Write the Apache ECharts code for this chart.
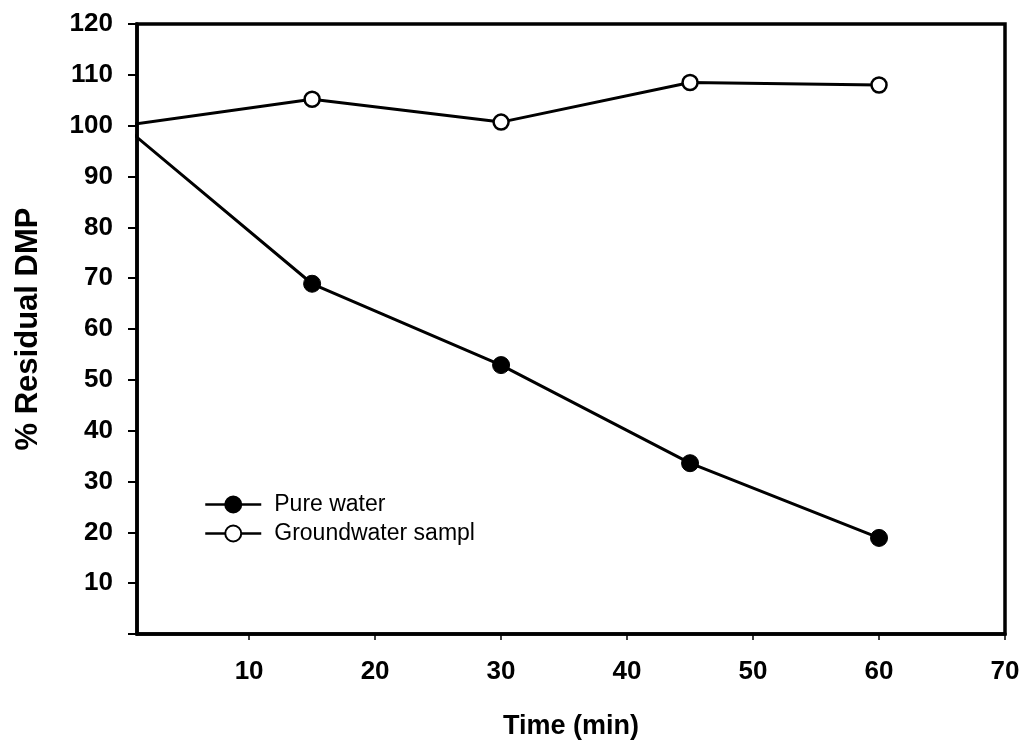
<!DOCTYPE html>
<html>
<head>
<meta charset="utf-8">
<script src="https://cdn.jsdelivr.net/npm/echarts@6/dist/echarts.min.js"></script>
<style>
html,body{margin:0;padding:0;background:#fff;}
#chart{width:1025px;height:746px;}
</style>
</head>
<body>
<div id="chart"></div>
<script>
var seriesNames = ['Pure water', 'Groundwater sampl'];
var timeMin = [0, 15, 30, 45, 60];
var pureWater = [100, 68.9, 52.9, 33.6, 18.9];
var groundwater = [100, 105.2, 100.7, 108.5, 108.0];
var xTickValues = [10, 20, 30, 40, 50, 60, 70];
var yTickLabels = ['10','20','30','40','50','60','70','80','90','100','110','120'];

function pairs(xs, ys) { return xs.map(function (x, i) { return [x, ys[i]]; }); }

var FONT = '"Liberation Sans", Arial, sans-serif';
var chart = echarts.init(document.getElementById('chart'));
chart.setOption({
  animation: false,
  backgroundColor: '#fff',
  grid: { left: 137, right: 20, top: 24, bottom: 112, show: true, borderColor: '#000', borderWidth: 3.5, backgroundColor: 'transparent' },
  legend: {
    left: 199, top: 488, orient: 'vertical', itemWidth: 56, itemHeight: 20, itemGap: 6,
    data: seriesNames,
    lineStyle: { width: 2.5 },
    textStyle: { fontFamily: FONT, fontSize: 23, color: '#000', padding: [0, 0, 0, 8] }
  },
  xAxis: {
    type: 'value', min: 1.1, max: 70,
    name: 'Time (min)', nameLocation: 'middle', nameGap: 79,
    nameTextStyle: { fontFamily: FONT, fontSize: 27, fontWeight: 'bold', color: '#000' },
    axisLine: { show: true, lineStyle: { color: '#000', width: 3.5 } },
    axisTick: { show: true, inside: false, length: 6, customValues: xTickValues, lineStyle: { color: '#000', width: 1.5 } },
    axisLabel: { customValues: xTickValues, margin: 25, fontFamily: FONT, fontSize: 26, fontWeight: 'bold', color: '#000' },
    splitLine: { show: false }
  },
  yAxis: {
    type: 'value', min: 0, max: 120, interval: 10,
    name: '% Residual DMP', nameLocation: 'middle', nameGap: 93, nameRotate: 90,
    nameTextStyle: { fontFamily: FONT, fontSize: 31, fontWeight: 'bold', color: '#000' },
    axisLine: { show: true, lineStyle: { color: '#000', width: 3.5 } },
    axisTick: { show: true, inside: false, length: 9, lineStyle: { color: '#000', width: 2 } },
    axisLabel: {
      margin: 24, fontFamily: FONT, fontSize: 26, fontWeight: 'bold', color: '#000',
      formatter: function (v) { var i = yTickLabels.indexOf(String(v)); return i >= 0 ? yTickLabels[i] : ''; }
    },
    splitLine: { show: false }
  },
  series: [
    {
      name: seriesNames[0], type: 'line', data: pairs(timeMin, pureWater), clip: true,
      symbol: 'circle', symbolSize: 17,
      lineStyle: { color: '#000', width: 3 },
      itemStyle: { color: '#000', borderColor: '#000', borderWidth: 1 }
    },
    {
      name: seriesNames[1], type: 'line', data: pairs(timeMin, groundwater), clip: true,
      symbol: 'circle', symbolSize: 15,
      lineStyle: { color: '#000', width: 3 },
      itemStyle: { color: '#fff', borderColor: '#000', borderWidth: 2.5 }
    }
  ]
});
</script>
</body>
</html>
